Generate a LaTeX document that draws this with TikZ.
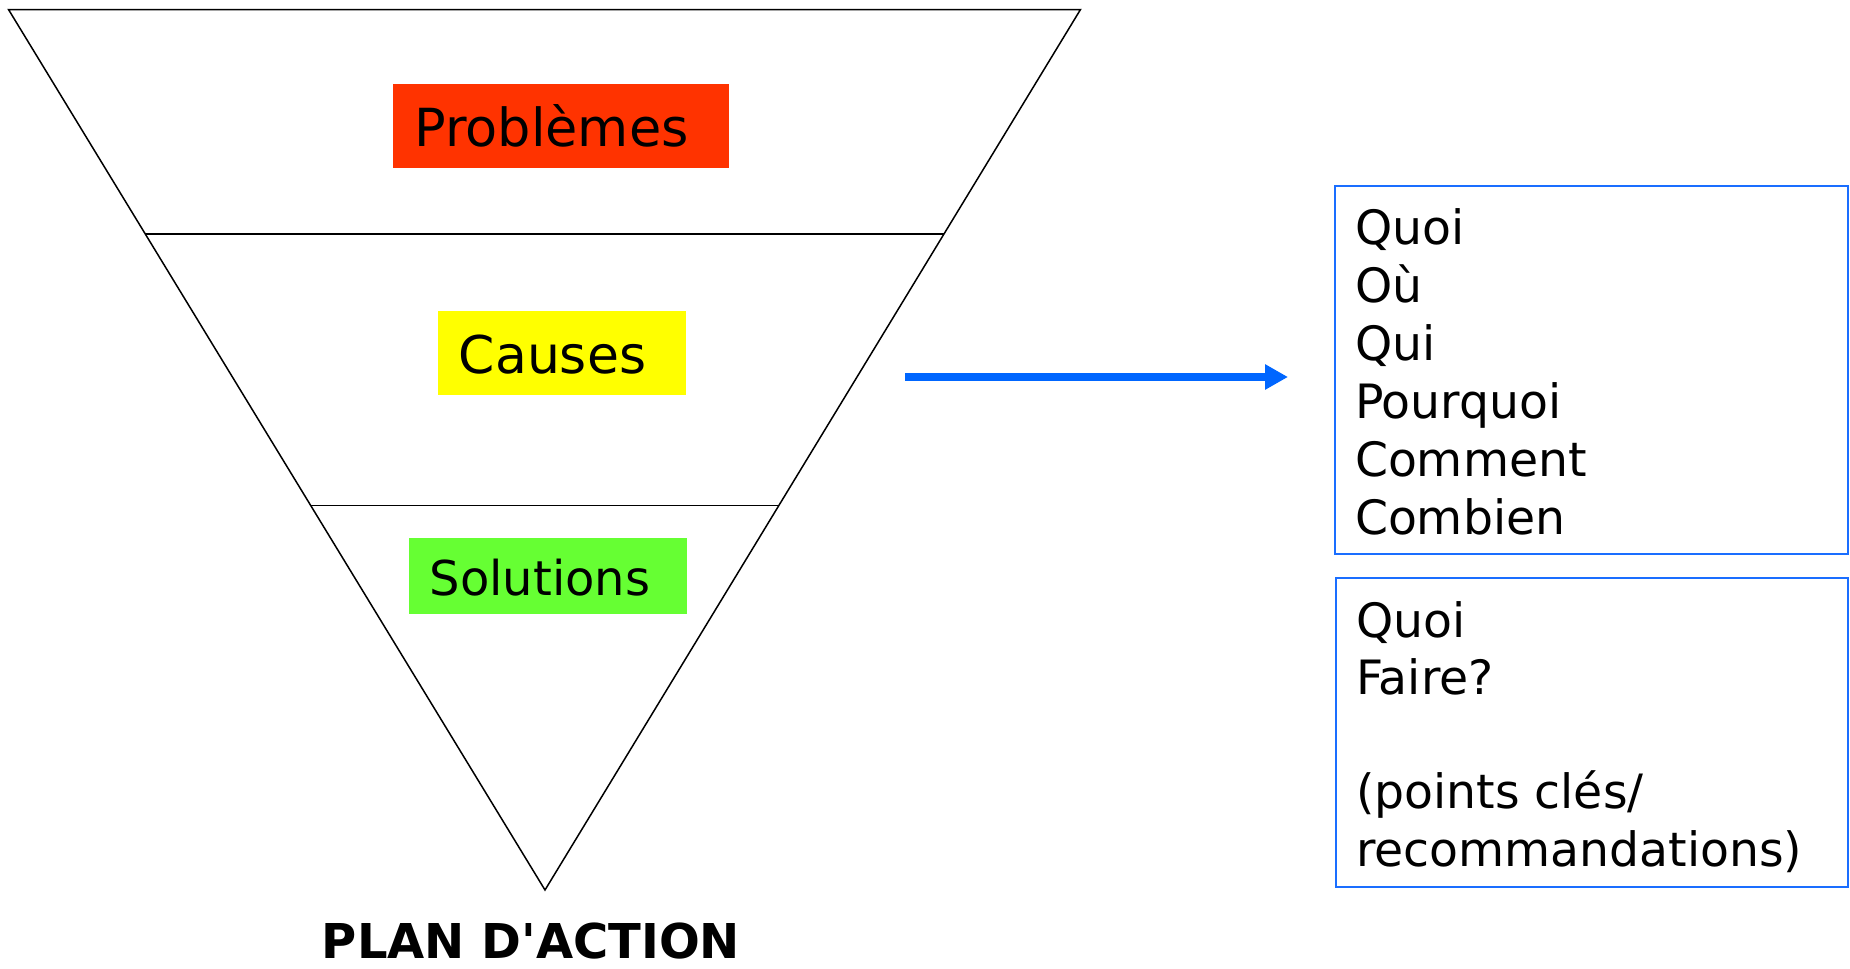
\documentclass[tikz,border=0pt]{standalone}
\usepackage{fontspec}
\setmainfont{DejaVu Sans}
\usetikzlibrary{arrows.meta,calc}
\definecolor{probred}{HTML}{FF3300}
\definecolor{causeyellow}{HTML}{FFFF00}
\definecolor{solgreen}{HTML}{66FF33}
\definecolor{arrowblue}{HTML}{0066FF}
\definecolor{boxblue}{HTML}{1A6EFF}
\begin{document}
\begin{tikzpicture}[x=1pt,y=-1pt,
  funnel/.style={line width=1.5pt, black, line join=miter},
  divider/.style={line width=1.9pt, black},
  colbox/.style={anchor=north west, inner sep=0pt, outer sep=0pt},
  boxlabel/.style={anchor=base, inner sep=0pt, outer sep=0pt, font=\fontsize{52.5}{60}\selectfont},
  framebox/.style={anchor=north west, inner sep=0pt, outer sep=0pt, draw=boxblue, line width=2pt},
  boxtext/.style={anchor=base west, inner sep=0pt, outer sep=0pt, font=\fontsize{47.3}{56}\selectfont},
  flowarrow/.style={line width=8.5pt, arrowblue, -{Triangle[length=23pt,width=24pt]}}
]
\useasboundingbox (0,0) rectangle (1850,969);

% funnel
\coordinate (tl) at (8.5,9.5);
\coordinate (tr) at (1080.5,9.5);
\coordinate (bt) at (545,890);
\draw[funnel] (tl) -- (tr) -- (bt) -- cycle;
\coordinate (d1l) at ($(tl)!0.255!(bt)$);
\coordinate (d1r) at ($(tr)!0.255!(bt)$);
\coordinate (d2l) at ($(tl)!0.5633!(bt)$);
\coordinate (d2r) at ($(tr)!0.5633!(bt)$);
\draw[divider] (d1l) -- (d1r);
\draw[divider] (d2l) -- (d2r);

% coloured labels
\node[colbox, fill=probred, minimum width=336pt, minimum height=83.5pt] (probbox) at (393,84) {};
\node[boxlabel] (probtxt) at (551.5,146) {Problèmes};
\node[colbox, fill=causeyellow, minimum width=248.3pt, minimum height=84pt] (causebox) at (437.7,311) {};
\node[boxlabel, font=\fontsize{52}{60}\selectfont] (causetxt) at (552.5,373.3) {Causes};
\node[colbox, fill=solgreen, minimum width=278pt, minimum height=76.6pt] (solbox) at (409,537.7) {};
\node[boxlabel, font=\fontsize{48}{56}\selectfont] (soltxt) at (540,595) {Solutions};

% title
\node[anchor=base, inner sep=0pt, font=\fontsize{48}{56}\selectfont\bfseries] (title) at (531,958) {PLAN D\textquotesingle ACTION};

% arrow
\coordinate (arrS) at (905,377);
\coordinate (arrE) at (1288,377);
\draw[flowarrow] (arrS) -- (arrE);

% right boxes
\node[framebox, minimum width=512.7pt, minimum height=367.6pt] (box1) at (1335,186) {};
\foreach \txt [count=\i from 0] in {Quoi,Où,Qui,Pourquoi,Comment,Combien}
  \node[boxtext] (qa\i) at (1355,{244+58*\i}) {\txt};

\node[framebox, minimum width=511.7pt, minimum height=308.7pt] (box2) at (1336,578) {};
\node[boxtext] (qb0) at (1356,637) {Quoi};
\node[boxtext] (qb1) at (1356,694.25) {Faire?};
\node[boxtext] (qb2) at (1356,808.75) {(points clés/};
\node[boxtext] (qb3) at (1356,866) {recommandations)};
\end{tikzpicture}
\end{document}
